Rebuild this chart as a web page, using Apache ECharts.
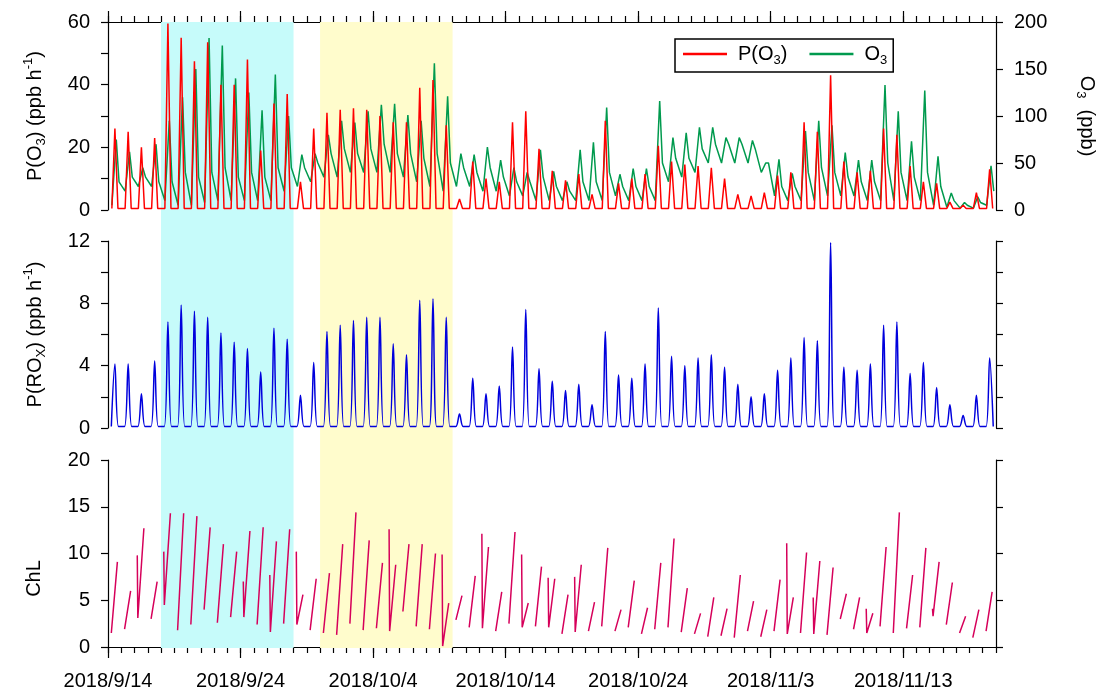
<!DOCTYPE html>
<html>
<head>
<meta charset="utf-8">
<script src="https://cdn.jsdelivr.net/npm/echarts@6/dist/echarts.min.js"></script>
<style>
  html, body { margin: 0; padding: 0; background: #fff; }
  #chart { width: 1105px; height: 695px; }
</style>
</head>
<body>
<div id="chart"></div>
<script>
// x values are days since 2018/9/14 00:00, one array entry per day (9/14 ... 11/19)
const dayCount = 67;
const tickDays = [0, 10, 20, 30, 40, 50, 60];
const tickLabels = ["2018/9/14", "2018/9/24", "2018/10/4", "2018/10/14", "2018/10/24", "2018/11/3", "2018/11/13"];
const cyanPeriod = [4, 14];    // 9/18 - 9/28
const yellowPeriod = [16, 26]; // 9/30 - 10/10

// P(O3), ppb h-1 : daily midday peak, night level
const po3Peak = [
  26, 25, 20, 23, 59.5, 55, 47.5, 53.5, 40, 40,
  48, 19, 34, 37, 9, 26, 31, 32, 32.5, 32,
  30, 28, 28, 39, 41.5, 27, 3.5, 15.5, 10, 9,
  28, 31.5, 19.5, 12.5, 9.5, 11.5, 5, 28.5, 8.5, 10,
  11.5, 20.5, 15.5, 14.5, 14, 13.5, 10, 5, 4.5, 5.5,
  11, 12, 28, 25, 43, 15.5, 12, 12.5, 26, 24,
  14, 9, 8.5, 2.5, 1.5, 5.5, 13
];
const po3Base = 0.5;

// O3, ppb : early-morning low, afternoon peak, evening level
const o3Morning = [
  5, 20, 25, 25, 10, 5, 5, 8, 10, 10,
  10, 10, 10, 20, 25, 30, 35, 35, 40, 40,
  40, 40, 35, 30, 25, 20, 25, 25, 20, 20,
  15, 15, 10, 10, 10, 10, 10, 10, 15, 10,
  10, 10, 30, 35, 40, 50, 50, 50, 50, 40,
  15, 10, 10, 10, 15, 15, 15, 10, 10, 10,
  10, 10, 5, 3, 2, 2, 5
];
const o3Peak = [
  75, 62, 45, 70, 95, 120, 150, 183, 175, 140,
  125, 106, 144, 100, 59, 60, 80, 95, 93, 105,
  112, 113, 101, 95, 156, 121, 60, 59, 67, 53,
  45, 40, 64, 41, 30, 64, 72, 109, 38, 44,
  44, 116, 77, 82, 88, 88, 77, 77, 74, 50,
  54, 39, 84, 95, 90, 61, 53, 53, 133, 105,
  73, 127, 57, 18, 8, 14, 47
];
const o3Evening = [
  30, 35, 35, 30, 30, 40, 35, 40, 45, 35,
  40, 35, 45, 45, 45, 50, 60, 65, 60, 65,
  70, 60, 60, 55, 60, 50, 45, 40, 45, 35,
  30, 30, 35, 25, 20, 30, 30, 40, 25, 25,
  25, 50, 55, 55, 65, 70, 70, 70, 65, 50,
  25, 25, 40, 45, 40, 35, 30, 30, 50, 40,
  35, 40, 25, 10, 5, 8, 20
];

// P(ROx), ppb h-1 : daily peak
const roxPeak = [
  4.1, 4.1, 2.2, 4.3, 6.8, 7.9, 7.5, 7.1, 6.1, 5.5,
  5.1, 3.6, 6.4, 5.7, 2.1, 4.2, 6.2, 6.6, 6.9, 7.1,
  7.1, 5.4, 4.7, 8.2, 8.3, 7.1, 0.9, 3.2, 2.2, 2.7,
  5.2, 7.6, 3.8, 3.0, 2.4, 2.8, 1.5, 6.2, 3.4, 3.2,
  4.1, 7.7, 4.6, 4.0, 4.5, 4.7, 3.9, 2.8, 2.0, 2.2,
  3.7, 4.5, 5.8, 5.6, 11.9, 3.9, 3.7, 4.1, 6.6, 6.8,
  3.5, 4.2, 2.6, 1.5, 0.8, 2.1, 4.5
];
const roxBase = 0.1;

// ChL : value before the morning drop (if any), morning low, evening high
const chlStart = [
  null, null, 9.8, null, 10.2, null, null, null, null, null,
  7.0, null, 7.7, null, 10.2, null, null, null, null, null,
  null, 12.6, null, null, null, 9.9, null, null, 12.1, null,
  null, 9.9, null, 7.4, null, 7.5, null, null, null, null,
  null, null, null, null, null, null, null, null, null, null,
  null, 11.1, null, 5.3, null, null, null, 4.1, null, null,
  null, null, 4.1, null, null, null, null
];
const chlLow = [
  1.5, 1.9, 3.1, 3.0, 4.5, 1.8, 2.4, 4.0, 2.6, 3.2,
  3.2, 2.4, 1.6, 2.5, 2.4, 1.8, 1.5, 1.3, 2.5, 1.8,
  2.0, 1.7, 3.8, 2.2, 1.9, 0.1, 2.9, 2.1, 2.0, 1.7,
  2.5, 2.1, 2.2, 2.1, 1.4, 1.6, 1.7, 2.2, 1.7, 2.1,
  1.4, 1.9, 2.1, 1.6, 1.4, 1.1, 1.2, 1.0, 1.7, 1.1,
  1.7, 1.4, 1.5, 1.4, 1.3, 3.0, 1.9, 1.5, 2.2, 1.5,
  2.0, 2.1, 3.3, 2.4, 1.5, 1.0, 1.7
];
const chlHigh = [
  9.1, 6.0, 12.7, 7.0, 14.3, 14.3, 14.0, 12.8, 11.0, 10.2,
  12.4, 12.8, 11.3, 12.6, 5.6, 7.3, 7.9, 11.0, 14.4, 11.4,
  9.0, 8.8, 11.0, 11.0, 10.0, 4.7, 5.5, 7.6, 10.7, 5.9,
  12.3, 4.7, 8.6, 7.3, 5.6, 8.8, 4.8, 10.6, 4.0, 7.1,
  4.2, 9.0, 11.6, 6.3, 3.6, 5.3, 4.1, 7.7, 4.9, 4.0,
  7.2, 5.3, 10.1, 9.2, 8.5, 5.7, 5.3, 3.6, 10.7, 14.4,
  7.7, 10.6, 9.1, 6.9, 3.3, 4.0, 5.9
];

const FONT = "Liberation Sans";
const hr = (d, h) => d + h / 24;

const po3Data = [];
po3Peak.forEach((p, d) => {
  po3Data.push([hr(d, 7), po3Base], [hr(d, 12.5), p], [hr(d, 18), po3Base]);
});
const o3Data = [];
o3Peak.forEach((p, d) => {
  o3Data.push([hr(d, 7), o3Morning[d]], [hr(d, 15), p], [hr(d, 20), o3Evening[d]]);
});
const roxData = [];
roxPeak.forEach((p, d) => {
  roxData.push([hr(d, 6), roxBase], [hr(d, 12.5), p], [hr(d, 19), roxBase]);
});
const chlData = [];
chlLow.forEach((lo, d) => {
  if (chlStart[d] !== null) chlData.push([hr(d, 5), chlStart[d]]);
  chlData.push([hr(d, 6), lo], [hr(d, 17), chlHigh[d]], [hr(d, 20), "-"]);
});

const rich = {
  a: { fontFamily: FONT, fontSize: 20, color: "#000", lineHeight: 26, verticalAlign: "middle" },
  s: { fontFamily: FONT, fontSize: 13, color: "#000", lineHeight: 13, verticalAlign: "bottom" },
  p: { fontFamily: FONT, fontSize: 13, color: "#000", lineHeight: 13, verticalAlign: "top" },
};

const tickStyle = { color: "#000", width: 1.2 };
const blackLine = { show: true, onZero: false, lineStyle: tickStyle };
const noLine = { show: false, onZero: false };
const dailyTicks = [];
for (let d = 0; d <= dayCount; d++) dailyTicks.push(d);

// x axes only carry ticks / labels; the data sit on a hidden value axis per grid
function xAxisTicks(grid, pos, values, len, showLine) {
  return {
    type: "value", gridIndex: grid, position: pos, min: 0, max: dayCount,
    axisLine: showLine ? blackLine : noLine, splitLine: { show: false },
    axisTick: { show: true, inside: false, length: len, customValues: values, lineStyle: tickStyle },
    axisLabel: { show: false },
  };
}
function xAxisData(grid) {
  return { type: "value", gridIndex: grid, min: 0, max: dayCount, show: false, axisLine: noLine };
}
function yAxis(grid, pos, max, interval, labelEvery, name, extra) {
  return Object.assign({
    type: "value", gridIndex: grid, position: pos, min: 0, max: max, interval: interval,
    axisLine: blackLine, splitLine: { show: false },
    axisTick: { show: true, length: 7, lineStyle: tickStyle },
    axisLabel: labelEvery ? {
      show: true, fontFamily: FONT, fontSize: 20, color: "#000", margin: 18,
      formatter: (v) => (v % labelEvery === 0 ? String(v) : ""),
    } : { show: false },
    name: name || "",
  }, extra || {});
}

const bottomLabels = {
  type: "value", gridIndex: 2, position: "bottom", min: 0, max: dayCount,
  axisLine: noLine, splitLine: { show: false }, axisTick: { show: false },
  axisLabel: {
    show: true, customValues: tickDays, fontFamily: FONT, fontSize: 20, color: "#000", margin: 24,
    formatter: (v) => tickLabels[tickDays.indexOf(Math.round(v))] || "",
  },
};

const chart = echarts.init(document.getElementById("chart"));
const option = {
  animation: false,
  textStyle: { fontFamily: FONT },
  grid: [
    { left: 108, right: 109, top: 22, height: 188 },
    { left: 108, right: 109, top: 241, height: 187 },
    { left: 108, right: 109, top: 460, height: 187 },
    { left: 108, right: 109, top: 22, height: 626 },
  ],
  xAxis: [
    xAxisData(0),                                   // 0 data, top panel
    xAxisData(1),                                   // 1 data, middle panel
    xAxisData(2),                                   // 2 data, bottom panel
    xAxisData(3),                                   // 3 shading
    xAxisTicks(0, "top", dailyTicks, 6, true),      // 4
    xAxisTicks(0, "top", tickDays, 11, false),      // 5
    xAxisTicks(2, "bottom", dailyTicks, 6, true),   // 6
    xAxisTicks(2, "bottom", tickDays, 11, false),   // 7
    bottomLabels,                                   // 8
  ],
  yAxis: [
    yAxis(0, "left", 60, 10, 20, "{a|P(O}{s|3}{a|) (ppb h}{p|-1}{a|)}", {
      nameLocation: "middle", nameRotate: 90, nameGap: 60,
      nameTextStyle: { rich: rich },
    }),
    yAxis(0, "right", 200, 50, 50, "{a|O}{s|3}{a|  (ppb)}", {
      nameLocation: "middle", nameRotate: -90, nameGap: 78,
      nameTextStyle: { rich: rich },
    }),
    yAxis(1, "left", 12, 2, 4, "{a|P(RO}{s|X}{a|) (ppb h}{p|-1}{a|)}", {
      nameLocation: "middle", nameRotate: 90, nameGap: 60,
      nameTextStyle: { rich: rich },
    }),
    yAxis(1, "right", 12, 2, 0),
    yAxis(2, "left", 20, 5, 5, "ChL", {
      nameLocation: "middle", nameRotate: 90, nameGap: 64,
      nameTextStyle: { fontFamily: FONT, fontSize: 20, color: "#000", padding: [0, 50, 0, 0] },
    }),
    yAxis(2, "right", 20, 5, 0),
    { type: "value", gridIndex: 3, min: 0, max: 1, show: false, axisLine: noLine },
  ],
  legend: {
    data: ["P(O3)", "O3"],
    left: 675, top: 39,
    orient: "horizontal",
    icon: "rect", itemWidth: 44, itemHeight: 2.5, itemGap: 22,
    padding: [5, 6, 5, 8],
    borderColor: "#000", borderWidth: 1.5, backgroundColor: "#fff",
    formatter: (n) => (n === "P(O3)" ? "{a|P(O}{s|3}{a|)}" : "{a|O}{s|3}"),
    textStyle: { rich: rich, padding: [0, 0, 0, 6] },
  },
  series: [
    {
      name: "shade", type: "line", xAxisIndex: 3, yAxisIndex: 6, z: 0,
      data: [[0, 0]], symbol: "none", lineStyle: { opacity: 0 }, silent: true,
      markArea: {
        silent: true,
        data: [
          [{ xAxis: cyanPeriod[0], itemStyle: { color: "#c6fbfa", opacity: 1 } }, { xAxis: cyanPeriod[1] }],
          [{ xAxis: yellowPeriod[0], itemStyle: { color: "#fffccc", opacity: 1 } }, { xAxis: yellowPeriod[1] }],
        ],
      },
    },
    {
      name: "O3", type: "line", xAxisIndex: 0, yAxisIndex: 1, data: o3Data,
      symbol: "none", color: "#009a4e", lineStyle: { width: 1.5 }, z: 3,
    },
    {
      name: "P(O3)", type: "line", xAxisIndex: 0, yAxisIndex: 0, data: po3Data,
      symbol: "none", color: "#ff0000", lineStyle: { width: 1.5 }, z: 4,
    },
    {
      name: "P(ROx)", type: "line", xAxisIndex: 1, yAxisIndex: 2, data: roxData,
      symbol: "none", color: "#0000dd", lineStyle: { width: 1.5 }, smooth: 0.3, z: 4,
    },
    {
      name: "ChL", type: "line", xAxisIndex: 2, yAxisIndex: 4, data: chlData,
      symbol: "none", color: "#d6005a", lineStyle: { width: 1.5 }, connectNulls: false, z: 4,
    },
  ],
};
chart.setOption(option);
</script>
</body>
</html>
